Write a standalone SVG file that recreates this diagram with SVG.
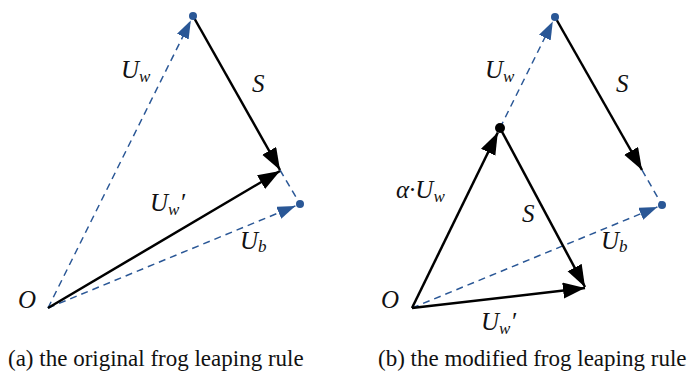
<svg xmlns="http://www.w3.org/2000/svg" width="691" height="373" viewBox="0 0 691 373">
<style>
.dash{stroke:#2a5796;stroke-width:1.5;stroke-dasharray:7,5;fill:none}
.solid{stroke:#000;stroke-width:2.5;fill:none}
.lbl{font-family:"Liberation Serif",serif;font-style:italic;font-size:25px;fill:#111}
.sub{font-size:17px}
.cap{font-family:"Liberation Serif",serif;font-size:23px;fill:#111}
</style>
<defs>
<marker id="ab" markerUnits="userSpaceOnUse" markerWidth="20" markerHeight="14" refX="18" refY="6.5" orient="auto"><path d="M0,0 L18,6.5 L0,13 Z" fill="#2a5796"/></marker>
<marker id="ak" markerUnits="userSpaceOnUse" markerWidth="24" markerHeight="18" refX="22" refY="8" orient="auto"><path d="M0,0 L22,8 L0,16 Z" fill="#000"/></marker>
</defs>
<g id="connectors">
<line class="dash" x1="48" y1="308" x2="190.8" y2="20.5" marker-end="url(#ab)"/>
<line class="dash" x1="48" y1="308" x2="295.4" y2="205.9" marker-end="url(#ab)"/>
<line class="dash" x1="280" y1="170" x2="300" y2="204"/>
<line class="solid" x1="193" y1="16" x2="280" y2="170" marker-end="url(#ak)"/>
<line class="solid" x1="48" y1="308" x2="280" y2="171" marker-end="url(#ak)"/>
<line class="dash" x1="500" y1="128" x2="552.8" y2="21.5" marker-end="url(#ab)"/>
<line class="dash" x1="412" y1="308" x2="657.4" y2="206.9" marker-end="url(#ab)"/>
<line class="dash" x1="642" y1="170" x2="662" y2="205"/>
<line class="solid" x1="555" y1="17" x2="642" y2="170" marker-end="url(#ak)"/>
<line class="solid" x1="412" y1="308" x2="497.8" y2="132.5" marker-end="url(#ak)"/>
<line class="solid" x1="500" y1="128" x2="585" y2="287" marker-end="url(#ak)"/>
<line class="solid" x1="412" y1="308" x2="585" y2="288" marker-end="url(#ak)"/>
</g>
<g id="dots">
<circle cx="193" cy="16" r="4" fill="#2a5796"/>
<circle cx="300" cy="204" r="4" fill="#2a5796"/>
<circle cx="555" cy="17" r="4" fill="#2a5796"/>
<circle cx="662" cy="205" r="4" fill="#2a5796"/>
<circle cx="500" cy="128" r="5" fill="#000"/>
</g>
<g id="labels-a">
<text class="lbl" x="121" y="78">U<tspan class="sub" dy="4">w</tspan></text>
<text class="lbl" x="252" y="92">S</text>
<text class="lbl" x="150" y="211">U<tspan class="sub" dy="4">w</tspan><tspan dy="-4">′</tspan></text>
<text class="lbl" x="240" y="249">U<tspan class="sub" dy="3">b</tspan></text>
<text class="lbl" x="18" y="308">O</text>
<text class="cap" x="8" y="366">(a) the original frog leaping rule</text>
</g>
<g id="labels-b">
<text class="lbl" x="485" y="78">U<tspan class="sub" dy="4">w</tspan></text>
<text class="lbl" x="616" y="92">S</text>
<text class="lbl" x="396" y="198">α·U<tspan class="sub" dy="4">w</tspan></text>
<text class="lbl" x="522" y="222">S</text>
<text class="lbl" x="601" y="249">U<tspan class="sub" dy="3">b</tspan></text>
<text class="lbl" x="381" y="308">O</text>
<text class="lbl" x="481" y="330">U<tspan class="sub" dy="4">w</tspan><tspan dy="-4">′</tspan></text>
<text class="cap" x="378" y="366">(b) the modified frog leaping rule</text>
</g>
</svg>
